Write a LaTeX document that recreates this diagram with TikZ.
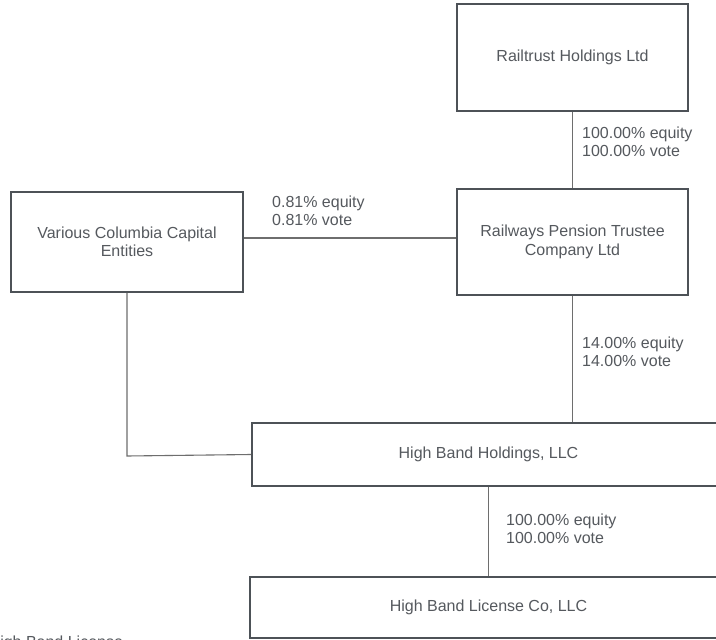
\documentclass[tikz,border=0pt]{standalone}
\usepackage{fontspec}
\setmainfont{Liberation Sans}
\definecolor{boxline}{HTML}{4D5257}
\definecolor{linkline}{HTML}{6E6E6E}
\definecolor{txtgray}{HTML}{55595E}
\tikzset{
  entity/.style={draw=boxline, line width=1.6pt, text=txtgray, align=center, inner sep=0pt},
  share/.style={text=txtgray, align=left, anchor=north west, inner sep=0pt},
  link/.style={draw=linkline, line width=1.1pt},
}
\begin{document}
\begin{tikzpicture}[x=1pt, y=-1pt, every node/.style={font=\fontsize{16}{18.4}\selectfont}]
	\clip (0,0) rectangle (716,640);
	\fill[white] (0,0) rectangle (716,640);

	% boxes
	\node[entity, minimum width=231pt, minimum height=107pt] (rail) at (572.5,57.5) {Railtrust Holdings Ltd};
	\node[entity, minimum width=231pt, minimum height=106pt] (rpt) at (572.5,242) {Railways Pension Trustee\\Company Ltd};
	\node[entity, minimum width=232pt, minimum height=100pt] (col) at (127,242) {Various Columbia Capital\\Entities};
	\node[entity, minimum width=473pt, minimum height=63pt] (hbh) at (488.5,454.5) {High Band Holdings, LLC};
	\node[entity, minimum width=477pt, minimum height=61pt] (hbl) at (488.5,607.5) {High Band License Co, LLC};
	\node[text=txtgray, anchor=base west, inner sep=0pt] (cut) at (-11.5,647) {High Band License};

	% links
	\coordinate (bend) at (127,456);
	\draw[link] (rail.south) -- (rpt.north);
	\draw[link] ([yshift=4pt]col.east) -- ([yshift=4pt]col.east -| rpt.west);
	\draw[link] (rpt.south) -- (rpt.south |- hbh.north);
	\draw[link] (col.south) -- (bend) -- (hbh.west);
	\draw[link] (hbh.south) -- (hbl.north);

	% holdings
	\node[share] (s1) at (582,126.5) {100.00\% equity\\100.00\% vote};
	\node[share] (s2) at (272,195.5) {0.81\% equity\\0.81\% vote};
	\node[share] (s3) at (582,336.5) {14.00\% equity\\14.00\% vote};
	\node[share] (s4) at (506,513.5) {100.00\% equity\\100.00\% vote};
\end{tikzpicture}
\end{document}
